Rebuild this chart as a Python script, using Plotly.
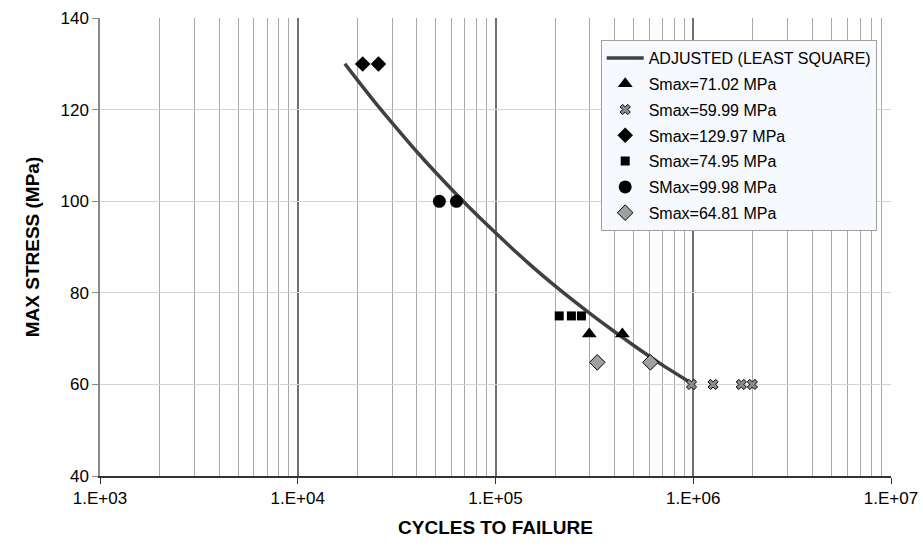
import plotly.graph_objects as go

# Fitted curve
fit_n = [17300, 20000, 25000, 30000, 40000, 50000, 70000, 100000, 150000,
         200000, 300000, 400000, 500000, 700000, 1000000]
fit_s = [130, 126.5, 121.2, 117.1, 110.8, 106.2, 99.6, 93.1, 86.1,
         81.5, 75.5, 71.5, 68.5, 64.2, 60]

tri_n = [298000, 438000]
tri_s = [71.02, 71.02]
x_n = [980000, 1260000, 1750000, 1990000]
x_s = [59.99, 59.99, 59.99, 59.99]
dia_n = [21300, 25600]
dia_s = [129.97, 129.97]
sq_n = [210000, 242000, 272000]
sq_s = [74.95, 74.95, 74.95]
cir_n = [52000, 63500]
cir_s = [99.98, 99.98]
gdia_n = [327000, 607000]
gdia_s = [64.81, 64.81]

x_ticks = [1e3, 1e4, 1e5, 1e6, 1e7]
x_tick_labels = ["1.E+03", "1.E+04", "1.E+05", "1.E+06", "1.E+07"]

fig = go.Figure()
fig.add_trace(go.Scatter(x=fit_n, y=fit_s, mode="lines", name="ADJUSTED (LEAST SQUARE)",
                         legendgroup="g0",
                         line=dict(color="#404040", width=3.5, shape="spline", smoothing=0.6)))
fig.add_trace(go.Scatter(x=tri_n, y=tri_s, mode="markers", name="Smax=71.02 MPa",
                         legendgroup="g1",
                         marker=dict(symbol="triangle-up", size=13, color="black")))
fig.add_trace(go.Scatter(x=x_n, y=x_s, mode="markers", name="Smax=59.99 MPa",
                         legendgroup="g2",
                         marker=dict(symbol="x", size=9, color="#8c8c8c",
                                     line=dict(color="black", width=1))))
fig.add_trace(go.Scatter(x=dia_n, y=dia_s, mode="markers", name="Smax=129.97 MPa",
                         legendgroup="g3",
                         marker=dict(symbol="diamond", size=12, color="black")))
fig.add_trace(go.Scatter(x=sq_n, y=sq_s, mode="markers", name="Smax=74.95 MPa",
                         legendgroup="g4",
                         marker=dict(symbol="square", size=9, color="black")))
fig.add_trace(go.Scatter(x=cir_n, y=cir_s, mode="markers", name="SMax=99.98 MPa",
                         legendgroup="g5",
                         marker=dict(symbol="circle", size=13, color="black")))
fig.add_trace(go.Scatter(x=gdia_n, y=gdia_s, mode="markers", name="Smax=64.81 MPa",
                         legendgroup="g6",
                         marker=dict(symbol="diamond", size=12, color="#a0a0a0",
                                     line=dict(color="black", width=1))))

fig.update_layout(
    width=923, height=547,
    margin=dict(l=100, r=32, t=18, b=71),
    plot_bgcolor="white", paper_bgcolor="white",
    font=dict(family="Liberation Sans, Arial", size=17, color="black"),
    legend=dict(x=0.633, y=0.952, xanchor="left", yanchor="top",
                bgcolor="#f6f9fd", bordercolor="#a0a0a0", borderwidth=1,
                font=dict(size=16), tracegroupgap=2, itemsizing="trace",
                itemwidth=37),
    showlegend=True,
)
fig.update_xaxes(
    type="log", range=[3, 7],
    tickvals=x_ticks, ticktext=x_tick_labels,
    showgrid=True, gridcolor="#707070", gridwidth=2,
    minor=dict(dtick="D1", showgrid=True, gridcolor="#a8a8a8", gridwidth=1, ticks=""),
    showline=True, linecolor="#333333", linewidth=2,
    ticks="outside", ticklen=6, tickcolor="#333333",
    title=dict(text="<b>CYCLES TO FAILURE</b>", font=dict(size=19), standoff=13),
    automargin=False,
    zeroline=False,
)
fig.update_yaxes(
    range=[40, 140], dtick=20,
    showgrid=True, gridcolor="#d4d4d4", gridwidth=1,
    showline=True, linecolor="#8a8a8a", linewidth=1.5,
    ticks="outside", ticklen=6, tickcolor="#8a8a8a",
    title=dict(text="<b>MAX STRESS (MPa)</b>", font=dict(size=19), standoff=16),
    automargin=False,
    zeroline=False,
)
fig.write_html("out.html")
